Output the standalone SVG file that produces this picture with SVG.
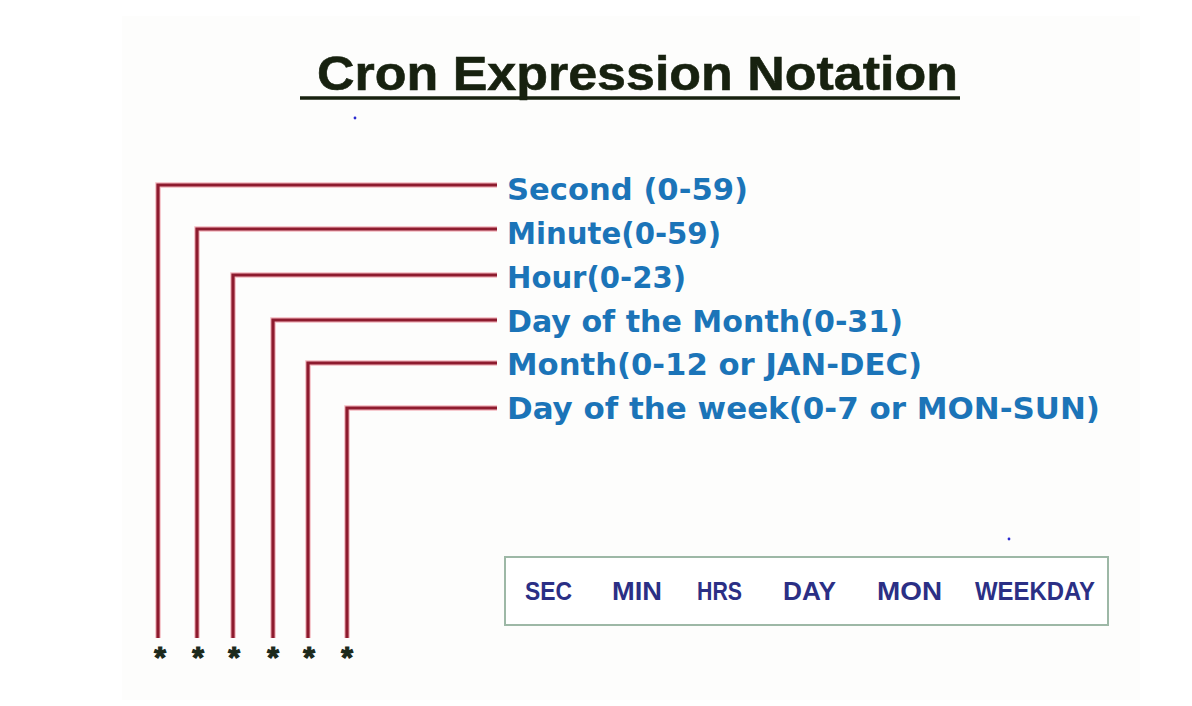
<svg xmlns="http://www.w3.org/2000/svg" width="1192" height="706" viewBox="0 0 1192 706">
  <style>
    .conn { fill: none; stroke: #8e1b2e; stroke-width: 3.2; stroke-linejoin: miter; }
    .halo { fill: none; stroke: #f3b9c0; stroke-width: 5.5; }
    .lbl { font-family: "DejaVu Sans", "Liberation Sans", sans-serif; font-weight: bold; font-size: 31px; fill: #1b74b8; }
    .star { font-family: "Liberation Sans", sans-serif; font-weight: bold; font-size: 30px; fill: #1c2a1c; stroke: #1c2a1c; stroke-width: 1.2; text-anchor: middle; }
    .title { font-family: "Liberation Sans", sans-serif; font-weight: bold; font-size: 49px; fill: #17210f; stroke: #17210f; stroke-width: 0.6; }
    .abbr { font-family: "Liberation Sans", sans-serif; font-weight: bold; font-size: 25px; fill: #2b2f85; }
  </style>
  <rect x="0" y="0" width="1192" height="706" fill="#ffffff"/>
  <rect x="122" y="16" width="1018" height="684" fill="#fdfdfc"/>

  <g id="title">
    <text class="title" x="317" y="90" textLength="641" lengthAdjust="spacingAndGlyphs">Cron Expression Notation</text>
    <line x1="300" y1="98" x2="960" y2="98" stroke="#17210f" stroke-width="3.5"/>
  </g>

  <g id="connectors">
    <path class="halo" d="M158 638 V185 H497 M197 638 V229 H497 M233 638 V275 H497 M273 638 V320 H497 M308 638 V363 H497 M347 638 V408 H497"/>
    <path class="conn" d="M158 638 V185 H497"/>
    <path class="conn" d="M197 638 V229 H497"/>
    <path class="conn" d="M233 638 V275 H497"/>
    <path class="conn" d="M273 638 V320 H497"/>
    <path class="conn" d="M308 638 V363 H497"/>
    <path class="conn" d="M347 638 V408 H497"/>
  </g>

  <g id="stars">
    <text class="star" x="160" y="667">*</text>
    <text class="star" x="198" y="667">*</text>
    <text class="star" x="234" y="667">*</text>
    <text class="star" x="273" y="667">*</text>
    <text class="star" x="309" y="667">*</text>
    <text class="star" x="347" y="667">*</text>
  </g>

  <g id="label-second"><text class="lbl" x="507" y="200" textLength="241" lengthAdjust="spacingAndGlyphs">Second (0-59)</text></g>
  <g id="label-minute"><text class="lbl" x="507" y="244" textLength="214" lengthAdjust="spacingAndGlyphs">Minute(0-59)</text></g>
  <g id="label-hour"><text class="lbl" x="507" y="288" textLength="179" lengthAdjust="spacingAndGlyphs">Hour(0-23)</text></g>
  <g id="label-dom"><text class="lbl" x="507" y="332" textLength="396" lengthAdjust="spacingAndGlyphs">Day of the Month(0-31)</text></g>
  <g id="label-month"><text class="lbl" x="507" y="375" textLength="415" lengthAdjust="spacingAndGlyphs">Month(0-12 or JAN-DEC)</text></g>
  <g id="label-dow"><text class="lbl" x="507" y="419" textLength="593" lengthAdjust="spacingAndGlyphs">Day of the week(0-7 or MON-SUN)</text></g>

  <g id="abbr-box">
    <rect x="505" y="557" width="603" height="68" fill="#ffffff" stroke="#9db8a6" stroke-width="2"/>
    <text class="abbr" x="525" y="600" textLength="47" lengthAdjust="spacingAndGlyphs">SEC</text>
    <text class="abbr" x="612" y="600" textLength="50" lengthAdjust="spacingAndGlyphs">MIN</text>
    <text class="abbr" x="697" y="600" textLength="45" lengthAdjust="spacingAndGlyphs">HRS</text>
    <text class="abbr" x="783" y="600" textLength="53" lengthAdjust="spacingAndGlyphs">DAY</text>
    <text class="abbr" x="877" y="600" textLength="65" lengthAdjust="spacingAndGlyphs">MON</text>
    <text class="abbr" x="975" y="600" textLength="120" lengthAdjust="spacingAndGlyphs">WEEKDAY</text>
  </g>

  <circle cx="355" cy="118" r="1.4" fill="#2a2ad0"/>
  <circle cx="1009" cy="539" r="1.4" fill="#2a2ad0"/>
</svg>
